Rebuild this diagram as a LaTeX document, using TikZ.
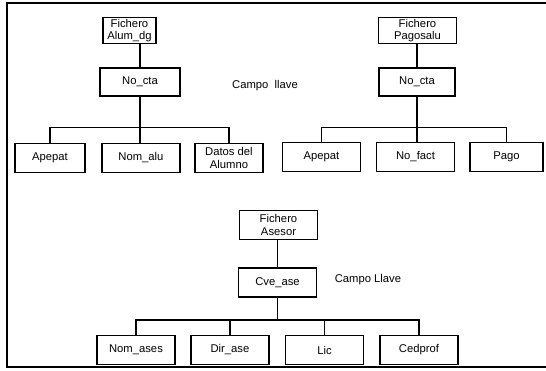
\documentclass[tikz,border=0pt]{standalone}
\usepackage{fontspec}
\setmainfont{Liberation Sans}
\tikzset{
  campo/.style={draw, line width=0.9pt, minimum width=1.95cm, minimum height=0.74cm,
                font=\fontsize{8}{9}\selectfont, align=center, inner sep=1pt},
  fichero/.style={campo, minimum height=0.64cm},
  etiqueta/.style={font=\fontsize{8}{9}\selectfont},
  liga/.style={line width=0.9pt},
}
\begin{document}
\begin{tikzpicture}[x=0.025cm, y=-0.025cm]
    \useasboundingbox (0,0) rectangle (546,370);
    \draw[line width=1pt] (546,3) -- (7,3) -- (7,367) -- (546,367);
    % alumnos
    \node[fichero, minimum width=1.32cm] (fa) at (129.5,30.5) {Fichero\\Alum\_dg};
    \node[campo, minimum width=2cm, minimum height=0.7cm] (na) at (140,82) {No\_cta};
    \node[etiqueta] (ka) at (265,86) {Campo\ \ llave};
    \node[campo, minimum width=1.75cm] (a1) at (50,158) {Apepat};
    \node[campo] (a2) at (141,158) {Nom\_alu};
    \node[campo, minimum width=1.7cm] (a3) at (229,158) {Datos del\\Alumno};
    \draw[liga] (fa.south -| na) -- (na.north);
    \draw[liga] (a1.north) -- ++(0,-15) -| (a3.north);
    \draw[liga] (na.south) -- (na.south |- a2.north);
    % pagos
    \node[fichero] (fp) at (417.5,30.5) {Fichero\\Pagosalu};
    \node[campo, minimum width=1.9cm, minimum height=0.7cm] (np) at (417,82) {No\_cta};
    \node[campo] (p1) at (321.5,157) {Apepat};
    \node[campo] (p2) at (415.5,157) {No\_fact};
    \node[campo, minimum width=1.82cm] (p3) at (506.5,157) {Pago};
    \draw[liga] (fp.south -| np) -- (np.north);
    \draw[liga] (p1.north) -- ++(0,-14) -| (p3.north);
    \draw[liga] (np.south) -- (np.south |- p2.north);
    % asesores
    \coordinate (sbus) at (0,320);
    \node[campo] (fs) at (278.5,225) {Fichero\\Asesor};
    \node[campo, minimum height=0.72cm] (ns) at (277.5,282.5) {Cve\_ase};
    \node[etiqueta] (ks) at (368,280) {Campo Llave};
    \node[campo] (s1) at (136,350) {Nom\_ases};
    \node[campo] (s2) at (230,350) {Dir\_ase};
    \node[campo] (s3) at (324.5,350) {Lic};
    \node[campo] (s4) at (419,350) {Cedprof};
    \draw[liga] (fs.south -| ns) -- (ns.north);
    \draw[liga] (s1.north) -- (s1.north |- sbus) -| (s4.north);
    \draw[liga] (ns.south) -- (ns.south |- sbus);
    \draw[liga] (s2.north) -- (s2.north |- sbus);
    \draw[liga] (s3.north) -- (s3.north |- sbus);
\end{tikzpicture}
\end{document}
